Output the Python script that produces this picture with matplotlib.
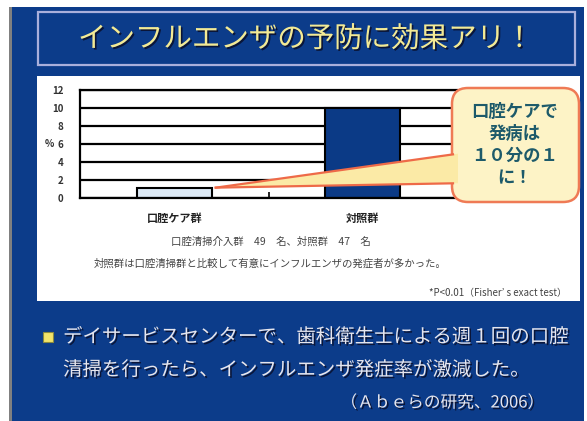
import matplotlib
matplotlib.use("Agg")
import matplotlib.pyplot as plt
import matplotlib.patheffects as pe
from matplotlib.patches import Rectangle, FancyBboxPatch, Polygon
from matplotlib.lines import Line2D
from matplotlib.transforms import IdentityTransform

plt.rcParams['font.family'] = ['Noto Sans CJK JP', 'DejaVu Sans']

# data
groups = ["口腔ケア群", "対照群"]
rates = [1.1, 10.0]
yticks = [0, 2, 4, 6, 8, 10, 12]
bar_colors = ["#dce9f5", "#0b3a86"]

title = "インフルエンザの予防に効果アリ！"
note_n = "口腔清掃介入群　49　名、対照群　47　名"
note_sig = "対照群は口腔清掃群と比較して有意にインフルエンザの発症者が多かった。"
note_test = "*P<0.01（Fisher’ s exact test）"
callout = "口腔ケアで\n発病は\n１０分の１\nに！"
bullet_lines = ["デイサービスセンターで、歯科衛生士による週１回の口腔",
                "清掃を行ったら、インフルエンザ発症率が激減した。"]
source = "（Ａｂｅらの研究、2006）"

BLUE = "#0c3c8a"
W, H = 587, 421
fig = plt.figure(figsize=(W / 100, H / 100), dpi=100, facecolor="white")
ident = IdentityTransform()


def px(x, y):
    # pixel from top-left -> display coords
    return (x, H - y)


def shadow():
    return [pe.withSimplePatchShadow(offset=(1.2, -1.2), shadow_rgbFace="#0a0f2a", alpha=0.85)]


# slide background
fig.add_artist(Rectangle(px(12, 421), 572, 414, transform=ident, fc=BLUE, ec="none", zorder=0))
fig.add_artist(Rectangle(px(9, 421), 3, 414, transform=ident, fc="#808080", ec="none", zorder=0))
fig.add_artist(Rectangle(px(38, 65), 537, 53, transform=ident, fill=False, ec="#aab0dc", lw=1.6, zorder=0.2))
fig.add_artist(Rectangle(px(37, 301), 543, 225, transform=ident, fc="white", ec="none", zorder=0.2))

fig.text(306 / W, 1 - 39 / H, title, fontsize=20.5, color="#f3ea95", ha="center", va="center",
         path_effects=shadow())

# chart
ax = fig.add_axes([80 / W, (H - 198) / H, 377 / W, 108 / H], zorder=1)
ax.patch.set_facecolor("white")
x = list(range(len(groups)))
ax.bar(x, rates, width=0.4, color=bar_colors, edgecolor="black", linewidth=1.5, zorder=2)
ax.set_xlim(-0.5, 1.5)
ax.set_ylim(0, 12)
ax.set_yticks(yticks)
ax.set_xticks(x)
ax.set_xticklabels(groups, fontsize=8, fontweight="bold", color="#222222")
ax.tick_params(axis="x", length=0, pad=10)
ax.set_xticks([0.5], minor=True)
ax.tick_params(axis="x", which="minor", direction="in", length=4, width=1.2)
ax.tick_params(axis="y", length=0, pad=12, labelsize=7, labelcolor="#333333")
for lbl in ax.get_yticklabels():
    lbl.set_fontweight("bold")
ax.yaxis.grid(True, color="black", linewidth=1.6)
ax.set_axisbelow(True)
ax.spines["right"].set_visible(False)
for s in ["left", "bottom", "top"]:
    ax.spines[s].set_linewidth(1.6)
ax.text(-0.08, 0.5, "%", transform=ax.transAxes, fontsize=7, fontweight="bold",
        color="#333333", ha="center", va="center")

fig.text(271 / W, 1 - 242 / H, note_n, fontsize=7.5, color="#444444", ha="center", va="center")
fig.text(270 / W, 1 - 263 / H, note_sig, fontsize=7.5, color="#444444", ha="center", va="center")
fig.text(567 / W, 1 - 293 / H, note_test, fontsize=7, color="#444444", ha="right", va="center")

# callout pointing at the oral-care bar
fig.canvas.draw()
tip = ax.transData.transform((0.22, 1.15))


def on_side(p, xq):
    # point on the line tip->p at display x = xq
    t = (xq - tip[0]) / (p[0] - tip[0])
    return (xq, tip[1] + t * (p[1] - tip[1]))


b1, b2 = px(470, 152), px(470, 183)
WEDGE_FC, EDGE = "#fbeaa6", "#ee6a48"
fig.add_artist(Polygon([tip, b1, b2], closed=True, transform=ident, fc=WEDGE_FC, ec="none", zorder=3))
box = FancyBboxPatch(px(452, 202), 127, 114, boxstyle="round,pad=0,rounding_size=16",
                     transform=ident, fc="#fdf3c6", ec="#ef7a55", lw=1.8, zorder=4)
fig.add_artist(box)
# open the box border where the pointer joins it
fig.add_artist(Polygon([on_side(b1, 447), on_side(b1, 458), on_side(b2, 458), on_side(b2, 447)],
                       closed=True, transform=ident, fc=WEDGE_FC, ec="none", zorder=4.5))
for b in (b1, b2):
    e = on_side(b, 453)
    fig.add_artist(Line2D([tip[0], e[0]], [tip[1], e[1]], transform=ident, color=EDGE,
                          lw=1.6, zorder=4.6))
fig.text(515 / W, 1 - 145 / H, callout, fontsize=12.5, fontweight="bold", color="#1d5a6a",
         ha="center", va="center", linespacing=1.3, zorder=5)

# bullet text
fig.add_artist(Rectangle(px(43, 342), 10, 10, transform=ident, fc="#f2e46a", ec="#8a8a40",
                         lw=0.8, zorder=2))
for i, line in enumerate(bullet_lines):
    fig.text(63 / W, 1 - (337 + 33 * i) / H, line, fontsize=14, color="#e6e6ee",
             ha="left", va="center", path_effects=shadow())
fig.text(544 / W, 1 - 403 / H, source, fontsize=12, color="#e6e6ee", ha="right", va="center",
         path_effects=shadow())

plt.savefig("out.png", dpi=100)
